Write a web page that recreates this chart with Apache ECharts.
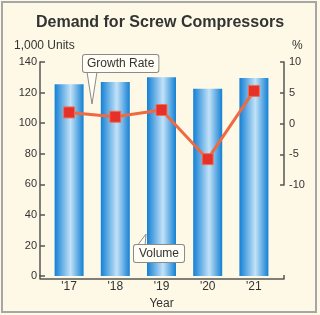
<!DOCTYPE html>
<html>
<head>
<meta charset="utf-8">
<script src="https://cdn.jsdelivr.net/npm/echarts@6/dist/echarts.min.js"></script>
<style>
  html,body{margin:0;padding:0;background:#ffffff;}
  #main{position:absolute;left:0;top:0;width:320px;height:315px;}
  #frame{position:absolute;left:1px;top:1px;width:312px;height:308px;border:2px solid #a6a6a6;pointer-events:none;}
</style>
</head>
<body>
<div id="main"></div>
<div id="frame"></div>
<script>
const categories = ["'17", "'18", "'19", "'20", "'21"];
const volume = [125.5, 127, 130, 122.5, 129.5];
const growth = [1.8, 1.1, 2.2, -5.8, 5.3];
const volumeTicks = [0, 140, 20];   // min, max, interval
const growthTicks = [-10, 10, 5];   // min, max, interval

const textColor = '#333333';
const axisColor = '#555555';
const font = 'Liberation Sans, Arial, sans-serif';

const chart = echarts.init(document.getElementById('main'), null, {renderer: 'canvas'});

const barGradient = new echarts.graphic.LinearGradient(0, 0, 1, 0, [
  {offset: 0, color: '#1380d4'},
  {offset: 0.55, color: '#c2e2f8'},
  {offset: 1, color: '#1380d4'}
]);

chart.setOption({
  backgroundColor: '#fdf9e6',
  animation: false,
  textStyle: {fontFamily: font},
  title: {
    text: 'Demand for Screw Compressors',
    left: 'center',
    top: 10,
    textStyle: {fontSize: 16, fontWeight: 'bold', color: textColor, fontFamily: font}
  },
  grid: [
    {left: 46, right: 43, top: 62, bottom: 36},
    {left: 46, right: 43, top: 62, bottom: 130},
    {left: 40, right: 36, top: 62, bottom: 36}
  ],
  xAxis: [
    {
      type: 'category', gridIndex: 0, data: categories,
      axisLine: {show: false}, axisTick: {show: false},
      axisLabel: {color: textColor, fontSize: 12, margin: 5},
      name: 'Year', nameLocation: 'middle', nameGap: 20,
      nameTextStyle: {color: textColor, fontSize: 12}
    },
    {type: 'category', gridIndex: 1, data: categories, show: false},
    {
      type: 'value', gridIndex: 2, min: 0, max: 1, interval: 1,
      axisLine: {show: true, lineStyle: {color: axisColor, width: 1.5}},
      axisTick: {show: true, inside: true, length: 4, lineStyle: {color: axisColor, width: 1.5}},
      axisLabel: {show: false}, splitLine: {show: false}
    }
  ],
  yAxis: [
    {
      type: 'value', gridIndex: 0, position: 'left', offset: 6,
      min: volumeTicks[0], max: volumeTicks[1], interval: volumeTicks[2],
      name: '1,000 Units', nameLocation: 'end', nameGap: 10,
      nameTextStyle: {color: textColor, fontSize: 12, align: 'left', padding: [0, 0, 0, -26]},
      axisLine: {show: true, lineStyle: {color: axisColor, width: 1.5}},
      axisTick: {show: true, inside: true, length: 5, lineStyle: {color: axisColor, width: 1.5}},
      axisLabel: {color: textColor, fontSize: 11, margin: 3},
      splitLine: {show: false}
    },
    {
      type: 'value', gridIndex: 1, position: 'right', offset: 7,
      min: growthTicks[0], max: growthTicks[1], interval: growthTicks[2],
      name: '%', nameLocation: 'end', nameGap: 10,
      nameTextStyle: {color: textColor, fontSize: 12, align: 'left', padding: [0, 0, 0, 8]},
      axisLine: {show: true, lineStyle: {color: axisColor, width: 1.5}},
      axisTick: {show: true, inside: true, length: 4, lineStyle: {color: axisColor, width: 1.5}},
      axisLabel: {color: textColor, fontSize: 11, margin: 5},
      splitLine: {show: false}
    },
    {type: 'value', gridIndex: 2, min: 0, max: 1, show: false}
  ],
  series: [
    {
      type: 'bar', xAxisIndex: 0, yAxisIndex: 0, data: volume,
      barWidth: 29, itemStyle: {color: barGradient}, z: 2
    },
    {
      type: 'line', xAxisIndex: 1, yAxisIndex: 1, data: growth,
      symbol: 'rect', symbolSize: 11,
      lineStyle: {color: '#ee6a40', width: 3},
      itemStyle: {color: '#e5312a', borderColor: '#f07050', borderWidth: 1},
      z: 5
    }
  ],
  graphic: [
    {
      type: 'polygon', z: 10,
      shape: {points: [[87, 72], [97, 72], [92, 104]]},
      style: {fill: '#fffdf4', stroke: '#8a8a8a', lineWidth: 1}
    },
    {
      type: 'text', z: 11, left: 82, top: 54,
      style: {
        text: 'Growth Rate', font: '12px ' + font, fill: textColor,
        backgroundColor: '#fffdf4', borderColor: '#8a8a8a', borderWidth: 1,
        borderRadius: 2, padding: [3, 4, 2, 4]
      }
    },
    {
      type: 'polygon', z: 10,
      shape: {points: [[137, 246], [145, 246], [146, 234]]},
      style: {fill: '#fffdf4', stroke: '#8a8a8a', lineWidth: 1}
    },
    {
      type: 'text', z: 11, left: 133, top: 244,
      style: {
        text: 'Volume', font: '12px ' + font, fill: textColor,
        backgroundColor: '#fffdf4', borderColor: '#8a8a8a', borderWidth: 1,
        borderRadius: 2, padding: [3, 5, 2, 5]
      }
    }
  ]
});
</script>
</body>
</html>
